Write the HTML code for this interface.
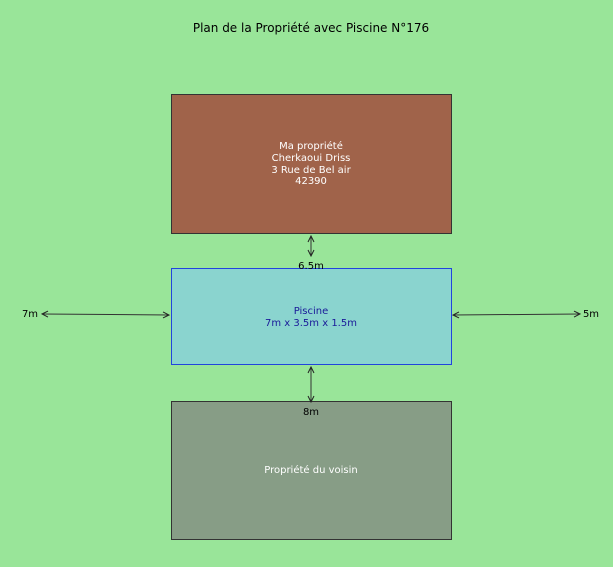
<!DOCTYPE html>
<html><head><meta charset="utf-8"><style>
body{margin:0;background:#99e599;}
svg{display:block}
text{font-family:"DejaVu Sans","Liberation Sans",sans-serif;}
</style></head><body>
<svg width="613" height="567" viewBox="0 0 613 567">
<defs><marker id="a" markerWidth="8" markerHeight="8" refX="7" refY="4" orient="auto-start-reverse" markerUnits="userSpaceOnUse"><path d="M1,1 L7,4 L1,7" fill="none" stroke="#222" stroke-width="1"/></marker></defs>
<rect width="613" height="567" fill="#99e599"/>
<text x="311" y="32" font-size="12" text-anchor="middle" fill="#000">Plan de la Propriété avec Piscine N°176</text>
<rect x="171.5" y="94.5" width="280" height="139" fill="#a0634a" stroke="#333" stroke-width="1"/>
<g font-size="10" fill="#fff" text-anchor="middle">
<text x="311" y="149">Ma propriété</text>
<text x="311" y="161">Cherkaoui Driss</text>
<text x="311" y="173">3 Rue de Bel air</text>
<text x="311" y="184">42390</text>
</g>
<rect x="171.5" y="268.5" width="280" height="96" fill="#8ad4cf" stroke="#2244dd" stroke-width="1"/>
<text x="311" y="314" font-size="10" fill="#1a1a99" text-anchor="middle">Piscine</text>
<text x="311" y="326" font-size="10" fill="#1a1a99" text-anchor="middle">7m x 3.5m x 1.5m</text>
<rect x="171.5" y="401.5" width="280" height="138" fill="#879d86" stroke="#333" stroke-width="1"/>
<text x="311" y="473" font-size="10" fill="#fff" text-anchor="middle">Propriété du voisin</text>
<g stroke="#333" stroke-width="1" fill="none">
<line x1="311" y1="236" x2="311" y2="256" marker-start="url(#a)" marker-end="url(#a)"/>
<line x1="311" y1="367" x2="311" y2="402" marker-start="url(#a)" marker-end="url(#a)"/>
<line x1="42" y1="314" x2="169" y2="315" marker-start="url(#a)" marker-end="url(#a)"/>
<line x1="453" y1="315" x2="580" y2="314" marker-start="url(#a)" marker-end="url(#a)"/>
</g>
<g font-size="10" fill="#000" text-anchor="middle">
<text x="311" y="269">6.5m</text>
<text x="311" y="415">8m</text>
<text x="30" y="317">7m</text>
<text x="591" y="317">5m</text>
</g>
</svg>
</body></html>
